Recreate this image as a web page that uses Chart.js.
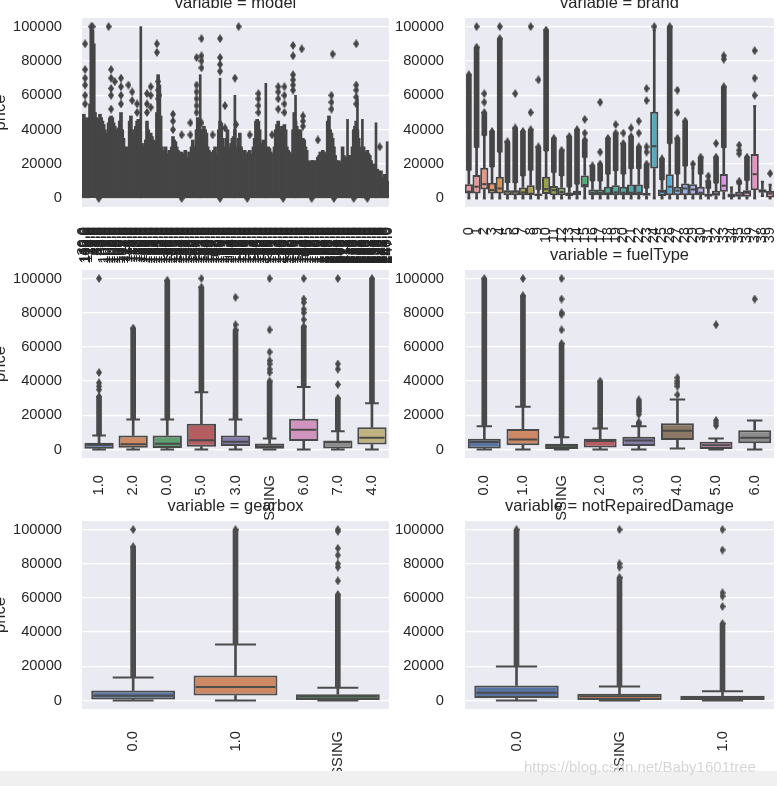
<!DOCTYPE html>
<html>
<head>
<meta charset="utf-8">
<script src="https://cdn.jsdelivr.net/npm/chart.js@4.4.1/dist/chart.umd.min.js"></script>
<style>
  body { margin: 0; width: 777px; height: 786px; overflow: hidden; position: relative; background: #fff; }
  canvas { position: absolute; }
  #strip { position: absolute; left: 0; top: 771px; width: 777px; height: 15px; background: #f0f0f0; }
  #mark { position: absolute; left: 524px; top: 758px; font: 15px "Liberation Sans", Arial, sans-serif; color: #d6d6d6; white-space: nowrap; }
</style>
</head>
<body>
<canvas id="pModel"></canvas>
<canvas id="pBrand"></canvas>
<canvas id="pBody"></canvas>
<canvas id="pFuel"></canvas>
<canvas id="pGear"></canvas>
<canvas id="pDamage"></canvas>
<div id="strip"></div>
<div id="mark">https://blog.csdn.net/Baby1601tree</div>
<script>
// ---------- model (values in thousands) ----------
const modelCodes = [30,40,115,109,110,24,13,26,19,7,1,48,65,49,27,4,
  0,100,2,101,3,102,5,103,6,104,8,105,9,106,10,107,11,108,12,111,14,112,15,113,16,114,17,116,18,117,
  20,118,21,119,22,120,23,121,25,122,28,123,29,124,31,125,32,126,33,127,34,128,35,129,36,130,37,131,
  38,132,39,133,41,134,42,135,43,136,44,137,45,138,46,139,47,140,50,141,51,142,52,143,53,144,54,145,
  55,146,56,147,57,148,58,149,59,150,60,151,61,152,62,153,63,154,64,155,66,156,67,157,68,158,69,159,
  70,160,71,161,72,162,73,163,74,164,75,165,76,166,77,167,78,168,79,169,80,170,81,171,82,172,83,173,
  84,174,85,175,86,176,87,177,88,178,89,179,90,180,91,181,92,182,93,183,94,184,95,185,96,186,97,187,
  98,188,99,189,190,191,192,193,194,195,196,197,198,199,200,201,202,203,204,205,206,207,208,209,210,
  211,212,213,214,215,216,217,218,219,220,221,222,223,224,225,226,227,228,229,230,231,232,233,234,
  235,236,237,238,239,240,241,242,243,244,245,246,247];
// top of the solid box / whisker / dense-flier column per model
const modelTop = [48,49,47,46,45,47,55,100, 98,90,50,47,46,44,49,47, 45,43,40,38,35,44,47,48,
  47,44,42,40,38,41,45,50, 40,35,30,28,30,25,45,48, 40,35,34,42,45,46,40,30,
  32,30,28,34,45,40,35,38, 36,34,33,30,50,72,66,48, 30,28,27,30,26,25,28,27,
  30,36,34,33,30,28,27,26, 27,25,26,28,24,22,27,25, 30,34,30,25,40,47,42,40,
  36,40,42,40,38,30,28,27, 25,26,28,30,26,24,40,45, 44,35,30,28,35,40,30,28,
  32,35,36,40,30,28,35,38, 30,28,27,28,26,25,27,28, 26,24,30,35,45,46,45,40,
  30,32,34,30,28,27,30,29, 27,26,25,30,40,43,45,40, 38,42,30,43,40,30,28,27,
  26,25,40,50,45,42,40,38, 40,30,35,34,30,28,22,21, 20,22,22,20,22,21,24,25,
  27,26,28,27,25,26,45,48, 40,38,35,30,25,22,20,22, 21,20,30,25,24,22,23,25,
  25,22,30,40,42,45,40,35, 30,28,26,30,25,27,28,26, 25,22,20,18,20,15,17,16,
  12,16,12,10,14,12,10,5];
// [model index, whisker top]
const modelWhiskers = [[47,100],[95,72],[111,70],[123,60],[148,67],[172,60],[214,46],[222,58],[226,46],[237,44],[246,33]];
// [model index, flier value]
const modelFliers = [[2,90],[2,75],[2,70],[2,66],[2,60],[2,55],[7,100],[8,100],[21,100],[23,75],[23,70],[23,64],[23,60],[23,52],
  [26,68],[31,70],[31,65],[31,60],[31,55],[37,66],[40,62],[40,57],[44,55],[44,50],[52,61],[52,55],[52,50],[55,65],[55,60],[55,53],
  [60,90],[60,85],[61,68],[61,63],[61,58],[62,60],[73,49],[73,45],[73,40],[80,37],[87,44],[87,37],[92,82],[92,66],[92,62],[92,58],
  [92,54],[92,50],[96,93],[96,83],[96,80],[96,76],[96,44],[105,37],[111,93],[111,82],[111,78],[111,74],[115,54],[115,41],[126,100],
  [123,70],[124,43],[135,37],[142,61],[142,58],[142,54],[142,50],[153,37],[158,65],[158,62],[158,58],[158,52],[163,65],[163,60],
  [163,55],[163,50],[170,89],[170,83],[170,72],[170,69],[170,66],[170,63],[177,87],[178,48],[178,45],[178,42],[190,34],[202,84],
  [201,60],[201,56],[201,52],[221,90],[221,66],[221,63],[221,59],[221,55],[240,30]];
const modelLowFliers = [13,80,111,133,162,185,203,219,230];

// ---------- brand ----------
const brandCats = ['0','1','2','3','4','5','6','7','8','9','10','11','12','13','14','15','16','17','18','19',
  '20','21','22','23','24','25','26','27','28','29','30','31','32','33','34','35','36','37','38','39'];
const brandQ1 = [2900,2900,5200,2900,2900,1900,1900,1900,1900,1400,2500,1900,1900,1400,1900,6400,1900,1900,1900,1900,
  1900,1900,1900,1500,17400,1400,1900,1900,1900,1900,1900,1000,1500,3900,600,1000,1000,4800,3300,600];
const brandMed = [3900,6800,8300,4800,5800,3900,3900,3500,2700,2200,5400,4800,3700,2800,3300,7800,3300,3300,2900,3500,
  3300,3300,3300,2500,30400,3900,6800,4500,5800,5200,3300,1900,2500,7400,1500,1900,3300,14100,4500,2900];
const brandQ3 = [8300,13600,17800,9100,12600,4800,4800,6400,7700,2900,12600,7200,6400,3500,4500,13400,5200,5200,6800,7600,
  6800,8100,8100,3300,50400,5200,14000,6800,8700,8300,6800,2900,4500,14200,2900,3900,4800,25800,5400,4500];
const brandLo = [0,0,0,0,0,0,0,0,0,0,0,0,0,0,0,0,0,0,0,0,0,0,0,0,0,0,0,0,0,0,0,0,0,0,0,0,0,0,1400,0];
const brandHi = [16400,29700,36700,18400,27000,9200,9200,13200,16400,5200,27700,15200,13200,6700,8400,23900,10200,10200,14200,16200,
  14200,17400,17400,6000,97900,10900,32000,14200,18900,17800,14200,5800,9000,29600,6400,8300,10500,53700,9700,8000];
const brandDense = [[16400,72000],[29700,88000],[36700,50000],[18400,39000],[27000,93000],[9200,33000],[9200,41000],
  [13200,39000],[16400,40000],[5200,30000],[27700,98000],[15200,35000],[13200,28000],[6700,36000],[8400,40000],
  [23900,34000],[10200,19000],[10200,20000],[14200,35000],[16200,38000],[14200,32000],[17400,36000],[17400,30000],
  [6000,20000],null,[10900,23000],[32000,100000],[14200,35000],[18900,45000],null,[14200,24000],[5800,10000],
  [9000,24000],[29600,65000],null,[8300,10000],[10500,24000],null,null,null];
const brandFliers = [['1',100000],['2',56000],['2',61000],['4',100000],['6',61000],['8',50000],['8',100000],['9',69000],
  ['15',38000],['15',46000],['17',27000],['17',56000],['19',43000],['20',38000],['21',41000],['22',38000],['22',45000],
  ['23',27000],['23',30000],['23',57000],['23',64000],['24',100000],['27',50000],['27',63000],['29',20000],['31',13000],
  ['32',32000],['33',81000],['33',83000],['35',26000],['35',28000],['35',31000],['37',60000],['37',70000],['37',86000],['39',14500]];

// ---------- bodyType ----------
const bodyCats = ['1.0','2.0','0.0','5.0','3.0','MISSING','6.0','7.0','4.0'];
const bodyQ1 = [400,1000,800,1600,2000,0,5000,600,2900];
const bodyMed = [2700,3100,3300,5400,4500,1700,11500,4300,6800];
const bodyQ3 = [3900,8200,8200,15000,8200,3500,18000,5200,13000];
const bodyLo = [0,0,0,0,0,0,0,0,0];
const bodyHi = [8200,17500,17500,33400,17500,6400,36500,10700,27000];
const bodyDense = [[8200,31000],[17500,71000],[17500,99000],[33400,95000],[17500,70000],[6400,40000],[36500,72000],[10700,30000],[27000,100000]];
const bodyFliers = [['1.0',35000],['1.0',37000],['1.0',39000],['1.0',45000],['1.0',100000],['5.0',100000],['3.0',73000],['3.0',89000],
  ['MISSING',45000],['MISSING',47000],['MISSING',50000],['MISSING',52000],['MISSING',57000],['MISSING',70000],['MISSING',100000],
  ['6.0',76000],['6.0',80000],['6.0',82000],['6.0',86000],['6.0',88000],['6.0',100000],
  ['7.0',38000],['7.0',47000],['7.0',50000],['7.0',100000]];

// ---------- fuelType ----------
const fuelCats = ['0.0','1.0','MISSING','2.0','3.0','4.0','5.0','6.0'];
const fuelQ1 = [600,2500,200,1200,2000,5600,200,3700];
const fuelMed = [4300,5800,2100,4900,5200,11000,2500,6800];
const fuelQ3 = [6200,12000,3300,6200,7400,15300,4500,11300];
const fuelLo = [0,0,0,0,0,600,0,0];
const fuelHi = [13600,25000,7200,12200,13600,29300,6400,17000];
const fuelDense = [[13600,100000],[25000,90000],[7200,62000],[12200,40000],[13600,16000],null,null,null];
const fuelFliers = [['1.0',100000],['MISSING',70000],['MISSING',79000],['MISSING',80000],['MISSING',88000],['MISSING',100000],
  ['3.0',20500],['3.0',22000],['3.0',23000],['3.0',24000],['3.0',25000],['3.0',26000],['3.0',27000],['3.0',28000],['3.0',29000],
  ['4.0',32000],['4.0',37000],['4.0',38500],['4.0',40000],['4.0',42000],['5.0',14000],['5.0',15500],['5.0',17000],['5.0',73000],['6.0',88000]];

// ---------- gearbox ----------
const gearCats = ['0.0','1.0','MISSING'];
const gearQ1 = [600,2900,200];
const gearMed = [2700,7800,2300];
const gearQ3 = [5800,14600,3700];
const gearLo = [0,0,0];
const gearHi = [13400,32700,7400];
const gearDense = [[13400,90000],[32700,100000],[7400,62000]];
const gearFliers = [['0.0',100000],['MISSING',70000],['MISSING',78000],['MISSING',80000],['MISSING',85000],['MISSING',89000],['MISSING',99000],['MISSING',100000]];

// ---------- notRepairedDamage ----------
const dmgCats = ['0.0','MISSING','1.0'];
const dmgQ1 = [1400,200,200];
const dmgMed = [4500,2500,1400];
const dmgQ3 = [8800,3900,2700];
const dmgLo = [0,0,0];
const dmgHi = [19800,8200,5400];
const dmgDense = [[19800,100000],[8200,72000],[5400,45000]];
const dmgFliers = [['MISSING',78000],['MISSING',80000],['MISSING',100000],['1.0',55000],['1.0',61000],['1.0',63000],['1.0',88000],['1.0',100000]];

const yTickValues = [0, 20000, 40000, 60000, 80000, 100000];
const yRange = [-5000, 105000];

// ---------- style ----------
const FONT = '"Liberation Sans", Arial, sans-serif';
const TEXT = '#262626';
const PANEL_BG = '#eaeaf2';
Chart.defaults.font.family = FONT;

const DEEP = ['#4C72B0','#DD8452','#55A868','#C44E52','#8172B3','#937860','#DA8BC3','#8C8C8C','#CCB974','#64B5CD'];

// husl (as used by seaborn) -> rgb
const HM = [[3.2406, -1.5372, -0.4986], [-0.9689, 1.8758, 0.0415], [0.0557, -0.2040, 1.0570]];
function maxChroma(L, H) {
  const hr = H * Math.PI / 180, sinH = Math.sin(hr), cosH = Math.cos(hr);
  const sub1 = Math.pow(L + 16, 3) / 1560896;
  const sub2 = sub1 > 0.008856 ? sub1 : L / 903.3;
  let res = Infinity;
  for (const [m1, m2, m3] of HM) {
    const top = (0.99915 * m1 + 1.05122 * m2 + 1.14460 * m3) * sub2;
    const rb = 0.86330 * m3 - 0.17266 * m2;
    const lb = 0.12949 * m3 - 0.38848 * m1;
    const bottom = (rb * sinH + lb * cosH) * sub2;
    for (const t of [0, 1]) {
      const C = L * (top - 1.05122 * t) / (bottom + 0.17266 * sinH * t);
      if (C > 0 && C < res) res = C;
    }
  }
  return res;
}
function huslToRgb(H, S, L) {
  const C = maxChroma(L, H) / 100 * S;
  const hr = H * Math.PI / 180;
  const U = Math.cos(hr) * C, V = Math.sin(hr) * C;
  const t = (L + 16) / 116;
  const Y = Math.pow(t, 3) > 0.008856 ? Math.pow(t, 3) : (116 * t - 16) / 903.3;
  const vu = U / (13 * L) + 0.19784, vv = V / (13 * L) + 0.46834;
  const X = -(9 * Y * vu) / ((vu - 4) * vv - vu * vv);
  const Z = (9 * Y - 15 * vv * Y - vv * X) / (3 * vv);
  return HM.map(r => {
    const c = r[0] * X + r[1] * Y + r[2] * Z;
    const s = c <= 0.0031308 ? 12.92 * c : 1.055 * Math.pow(c, 1 / 2.4) - 0.055;
    return Math.min(1, Math.max(0, s));
  });
}
function rgbToHls([r, g, b]) {
  const mx = Math.max(r, g, b), mn = Math.min(r, g, b), l = (mx + mn) / 2;
  if (mx === mn) return [0, l, 0];
  const d = mx - mn;
  const s = l <= 0.5 ? d / (mx + mn) : d / (2 - mx - mn);
  const rc = (mx - r) / d, gc = (mx - g) / d, bc = (mx - b) / d;
  let h = r === mx ? bc - gc : g === mx ? 2 + rc - bc : 4 + gc - rc;
  h = ((h / 6) % 1 + 1) % 1;
  return [h, l, s];
}
function hlsToRgb(h, l, s) {
  if (s === 0) return [l, l, l];
  const m2 = l <= 0.5 ? l * (1 + s) : l + s - l * s, m1 = 2 * l - m2;
  const v = hue => {
    hue = ((hue % 1) + 1) % 1;
    if (hue < 1 / 6) return m1 + (m2 - m1) * hue * 6;
    if (hue < 0.5) return m2;
    if (hue < 2 / 3) return m1 + (m2 - m1) * (2 / 3 - hue) * 6;
    return m1;
  };
  return [v(h + 1 / 3), v(h), v(h - 1 / 3)];
}
const toCss = c => 'rgb(' + c.map(v => Math.round(v * 255)).join(',') + ')';

function palette(n) {
  let base;
  if (n <= 10) {
    base = DEEP.slice(0, n).map(h => [1, 3, 5].map(i => parseInt(h.substr(i, 2), 16) / 255));
  } else {
    base = [];
    for (let i = 0; i < n; i++) base.push(huslToRgb(((i / n + 0.01) % 1) * 359, 0.9 * 99, 0.7 * 99));
  }
  const cols = base.map(c => { const [h, l, s] = rgbToHls(c); return hlsToRgb(h, l, s * 0.75); });
  const lum = Math.min(...cols.map(c => rgbToHls(c)[1])) * 0.6;
  return { fills: cols.map(toCss), gray: toCss([lum, lum, lum]) };
}

function diamond(color) {
  const c = document.createElement('canvas');
  c.width = 6; c.height = 9;
  const x = c.getContext('2d');
  x.fillStyle = color;
  x.beginPath(); x.moveTo(3, 0); x.lineTo(6, 4.5); x.lineTo(3, 9); x.lineTo(0, 4.5); x.closePath(); x.fill();
  return c;
}

// ---------- layout ----------
const COLS = { L: { x: 0, w: 392, yW: 82, yPad: 20 }, R: { x: 392, w: 385, yW: 73, yPad: 21 } };
const ROWS = [
  { y: 0, h: 268, padT: 18, xH: 61, xPad: 20 },
  { y: 242, h: 310, padT: 28, xH: 94, xPad: 17 },
  { y: 493, h: 293, padT: 28, xH: 77, xPad: 22 }
];
const PAD_R = 3;

const deco = {
  id: 'deco',
  beforeDraw(chart) {
    const a = chart.chartArea, ctx = chart.ctx;
    ctx.save();
    ctx.fillStyle = PANEL_BG;
    ctx.fillRect(a.left, a.top, a.right - a.left, a.bottom - a.top);
    ctx.restore();
  },
  afterDraw(chart, args, opts) {
    const a = chart.chartArea, ctx = chart.ctx;
    ctx.save();
    ctx.fillStyle = TEXT;
    ctx.font = '16.5px ' + FONT;
    ctx.textAlign = 'center';
    ctx.textBaseline = 'alphabetic';
    ctx.fillText(opts.title, (a.left + a.right) / 2, a.top - 10);
    if (opts.ylabel) {
      ctx.translate(4.5, (a.top + a.bottom) / 2);
      ctx.rotate(-Math.PI / 2);
      ctx.fillText(opts.ylabel, 0, 0);
    }
    ctx.restore();
  }
};

const noPad = s => { s.paddingLeft = 0; s.paddingRight = 0; s.paddingTop = 0; s.paddingBottom = 0; };

function makePanel(id, col, row, title, labels, datasets, ylabel) {
  const cv = document.getElementById(id);
  cv.width = col.w; cv.height = row.h;
  cv.style.left = col.x + 'px'; cv.style.top = row.y + 'px';
  const tickFont = { size: 14.7, family: FONT };
  return new Chart(cv, {
    type: 'bar',
    data: { labels, datasets },
    options: {
      animation: false,
      responsive: false,
      events: [],
      layout: { autoPadding: false, padding: { left: 0, right: PAD_R, top: row.padT, bottom: 0 } },
      plugins: { legend: { display: false }, tooltip: { enabled: false }, deco: { title, ylabel } },
      scales: {
        x: {
          offset: true,
          grid: { display: false, drawTicks: false },
          border: { display: false },
          ticks: { autoSkip: false, minRotation: 90, maxRotation: 90, padding: row.xPad, color: TEXT, font: tickFont },
          afterFit: s => { s.height = row.xH; noPad(s); }
        },
        y: {
          min: yRange[0], max: yRange[1],
          grid: { color: '#ffffff', lineWidth: 1.3, drawTicks: false },
          border: { display: false },
          ticks: { padding: col.yPad, color: TEXT, font: tickFont, callback: v => String(v) },
          afterBuildTicks: s => { s.ticks = yTickValues.map(v => ({ value: v })); },
          afterFit: s => { s.width = col.yW; noPad(s); }
        }
      }
    },
    plugins: [deco]
  });
}

function boxSets(cats, q1, med, q3, lo, hi, dense, fliers, catW) {
  const pal = palette(cats.length);
  const gray = pal.gray;
  const pts = fliers.map(f => ({ x: f[0], y: f[1] }));
  dense.forEach((d, i) => { if (d) pts.push({ x: cats[i], y: d[1] }); });
  const pointLine = (data, r, order) => ({
    type: 'line', showLine: false, data, pointStyle: 'line', pointRadius: r,
    pointBorderWidth: 2, pointBorderColor: gray, order
  });
  return [
    { type: 'line', showLine: false, data: pts, pointStyle: diamond(gray), pointRadius: 3, order: 7 },
    { data: dense, backgroundColor: gray, barThickness: 5, grouped: false, order: 6 },
    { data: cats.map((c, i) => [q3[i], hi[i]]), backgroundColor: gray, barThickness: 2, grouped: false, order: 5 },
    { data: cats.map((c, i) => [lo[i], q1[i]]), backgroundColor: gray, barThickness: 2, grouped: false, order: 5 },
    { data: cats.map((c, i) => [q1[i], q3[i]]), backgroundColor: pal.fills, borderColor: gray, borderWidth: 2,
      borderSkipped: false, barPercentage: (0.8 * catW + 2) / catW, categoryPercentage: 1, grouped: false, order: 4 },
    pointLine(hi, 0.2 * catW, 3),
    pointLine(lo, 0.2 * catW, 3),
    pointLine(med, 0.4 * catW - 1, 2)
  ];
}

function catWidth(col, n) { return (col.w - col.yW - PAD_R) / n; }

// ---------- model panel ----------
const modelLabels = modelCodes.map(c => c.toFixed(1));
const modelGray = palette(modelLabels.length).gray;
const modelWhiskerBars = modelLabels.map(() => null);
modelWhiskers.forEach(([i, t]) => { modelWhiskerBars[i] = [0, t * 1000]; });
const modelPts = modelFliers.map(([i, v]) => ({ x: modelLabels[i], y: v * 1000 }))
  .concat(modelLowFliers.map(i => ({ x: modelLabels[i], y: 0 })));
makePanel('pModel', COLS.L, ROWS[0], 'variable = model', modelLabels, [
  { type: 'line', showLine: false, data: modelPts, pointStyle: diamond(modelGray), pointRadius: 3, order: 3 },
  { data: modelWhiskerBars, backgroundColor: modelGray, barThickness: 2, grouped: false, order: 2 },
  { data: modelTop.map(t => [0, t * 1000]), backgroundColor: modelGray, barThickness: 3, grouped: false, order: 1 }
], 'price');

makePanel('pBrand', COLS.R, ROWS[0], 'variable = brand', brandCats,
  boxSets(brandCats, brandQ1, brandMed, brandQ3, brandLo, brandHi, brandDense, brandFliers, catWidth(COLS.R, brandCats.length)));

makePanel('pBody', COLS.L, ROWS[1], 'variable = bodyType', bodyCats,
  boxSets(bodyCats, bodyQ1, bodyMed, bodyQ3, bodyLo, bodyHi, bodyDense, bodyFliers, catWidth(COLS.L, bodyCats.length)), 'price');

makePanel('pFuel', COLS.R, ROWS[1], 'variable = fuelType', fuelCats,
  boxSets(fuelCats, fuelQ1, fuelMed, fuelQ3, fuelLo, fuelHi, fuelDense, fuelFliers, catWidth(COLS.R, fuelCats.length)));

makePanel('pGear', COLS.L, ROWS[2], 'variable = gearbox', gearCats,
  boxSets(gearCats, gearQ1, gearMed, gearQ3, gearLo, gearHi, gearDense, gearFliers, catWidth(COLS.L, gearCats.length)), 'price');

makePanel('pDamage', COLS.R, ROWS[2], 'variable = notRepairedDamage', dmgCats,
  boxSets(dmgCats, dmgQ1, dmgMed, dmgQ3, dmgLo, dmgHi, dmgDense, dmgFliers, catWidth(COLS.R, dmgCats.length)));
</script>
</body>
</html>
